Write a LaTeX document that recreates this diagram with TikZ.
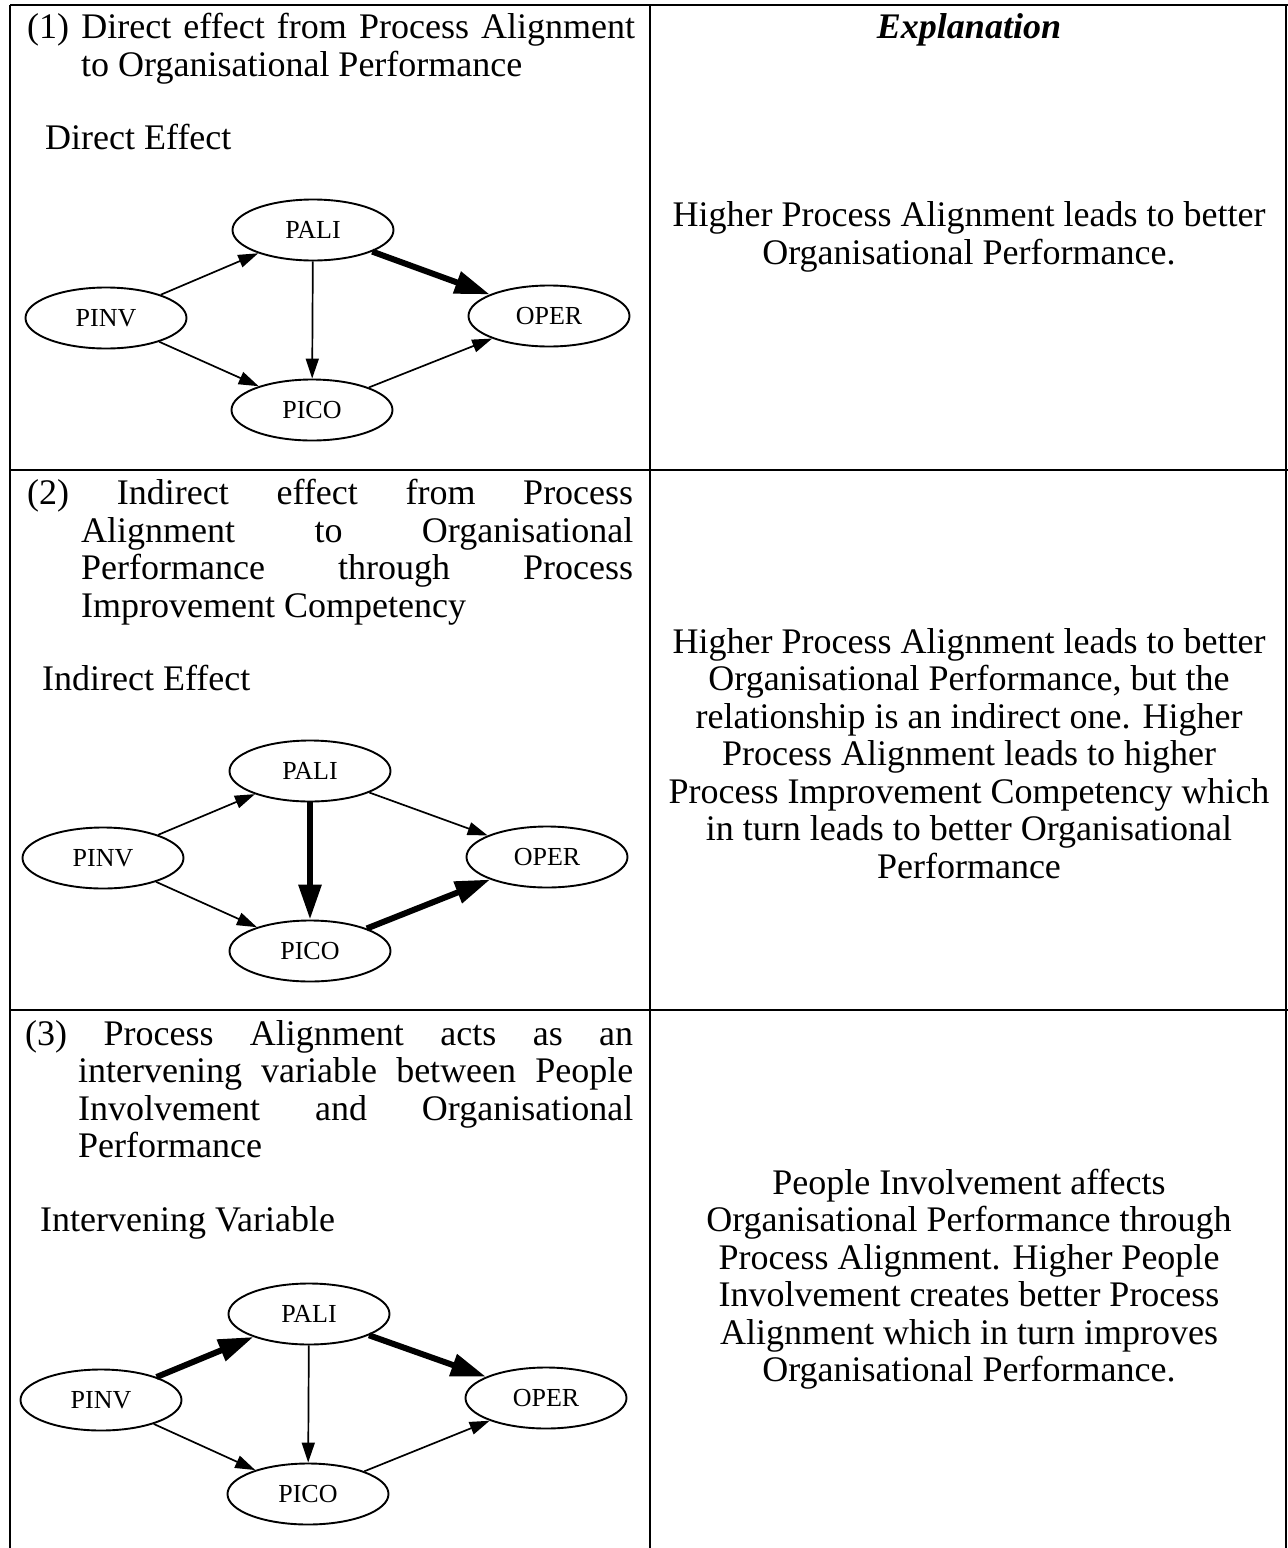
\documentclass[tikz,border=0pt]{standalone}
\usepackage{fontspec}
\setmainfont{Liberation Serif}
\usetikzlibrary{arrows.meta,shapes.geometric}

\begin{document}
\begin{tikzpicture}[x=1pt,y=-1pt,
  var/.style={ellipse,draw,line width=1.9pt,minimum width=161pt,minimum height=61pt,
              inner sep=0pt,font=\fontsize{26}{28}\selectfont},
  weak/.style={-{Triangle[length=20pt,width=13pt]},line width=1.7pt},
  strong/.style={-{Triangle[length=35pt,width=22pt]},line width=6pt},
  body/.style={font=\fontsize{36}{37.5}\selectfont,inner sep=0pt},
  lefttext/.style={body,anchor=base west},
  midtext/.style={body,anchor=base},
  rule/.style={line width=2.5pt}
]
\useasboundingbox (0,0) rectangle (1288,1548);

% table grid
\draw[rule] (10,5) -- (1288,5);
\draw[rule] (10,5) -- (10,1548);
\draw[rule] (650,5) -- (650,1548);
\draw[rule] (1286,5) -- (1286,1548);
\draw[rule] (10,470) -- (1288,470);
\draw[rule] (10,1010) -- (1288,1010);

% ---------- row 1: direct effect ----------
\node[lefttext] (t1a) at (27,38) {\hbox to 608pt{(1)\hfill Direct\hfill effect\hfill from\hfill Process\hfill Alignment}};
\node[lefttext] (t1b) at (81,76) {to Organisational Performance};
\node[lefttext] (h1) at (45,149) {Direct Effect};

\node[var] (paliA) at (313,230) {PALI};
\node[var] (pinvA) at (106,318) {PINV};
\node[var] (operA) at (549,316) {OPER};
\node[var] (picoA) at (312,410) {PICO};
\draw[weak] (pinvA) -- (paliA);
\draw[weak] (pinvA) -- (picoA);
\draw[weak] (paliA) -- (picoA);
\draw[strong] (paliA) -- (operA);
\draw[weak] (picoA) -- (operA);

\node[midtext,font=\fontsize{36}{37.5}\selectfont\bfseries\itshape] (ex) at (969,38) {Explanation};
\foreach \txt [count=\i] in {Higher Process Alignment leads to better,
                             Organisational Performance.}
  \node[midtext] (ea\i) at (969,{226+(\i-1)*38}) {\txt};

% ---------- row 2: indirect effect ----------
\node[lefttext] (t2a) at (27,504) {\hbox to 606pt{(2)\hfill Indirect\hfill effect\hfill from\hfill Process}};
\node[lefttext] (t2b) at (81,542) {\hbox to 552pt{Alignment\hfill to\hfill Organisational}};
\node[lefttext] (t2c) at (81,579) {\hbox to 552pt{Performance\hfill through\hfill Process}};
\node[lefttext] (t2d) at (81,617) {Improvement Competency};
\node[lefttext] (h2) at (42,690) {Indirect Effect};

\node[var] (paliB) at (310,771) {PALI};
\node[var] (pinvB) at (103,858) {PINV};
\node[var] (operB) at (547,857) {OPER};
\node[var] (picoB) at (310,951) {PICO};
\draw[weak] (pinvB) -- (paliB);
\draw[weak] (pinvB) -- (picoB);
\draw[strong] (paliB) -- (picoB);
\draw[weak] (paliB) -- (operB);
\draw[strong] (picoB) -- (operB);

\foreach \txt [count=\i] in {Higher Process Alignment leads to better,
                             {Organisational Performance, but the},
                             relationship is an indirect one. Higher,
                             Process Alignment leads to higher,
                             Process Improvement Competency which,
                             in turn leads to better Organisational,
                             Performance}
  \node[midtext] (eb\i) at (969,{653+(\i-1)*37.5}) {\txt};

% ---------- row 3: intervening variable ----------
\node[lefttext] (t3a) at (25,1045) {\hbox to 608pt{(3)\hfill Process\hfill Alignment\hfill acts\hfill as\hfill an}};
\node[lefttext] (t3b) at (78,1082) {\hbox to 555pt{intervening\hfill variable\hfill between\hfill People}};
\node[lefttext] (t3c) at (78,1120) {\hbox to 555pt{Involvement\hfill and\hfill Organisational}};
\node[lefttext] (t3d) at (78,1157) {Performance};
\node[lefttext] (h3) at (40,1231) {Intervening Variable};

\node[var] (paliC) at (309,1314) {PALI};
\node[var] (pinvC) at (101,1400) {PINV};
\node[var] (operC) at (546,1398) {OPER};
\node[var] (picoC) at (308,1494) {PICO};
\draw[strong] (pinvC) -- (paliC);
\draw[weak] (pinvC) -- (picoC);
\draw[weak] (paliC) -- (picoC);
\draw[strong] (paliC) -- (operC);
\draw[weak] (picoC) -- (operC);

\foreach \txt [count=\i] in {People Involvement affects,
                             Organisational Performance through,
                             Process Alignment. Higher People,
                             Involvement creates better Process,
                             Alignment which in turn improves,
                             Organisational Performance.}
  \node[midtext] (ec\i) at (969,{1194+(\i-1)*37.5}) {\txt};
\end{tikzpicture}
\end{document}
